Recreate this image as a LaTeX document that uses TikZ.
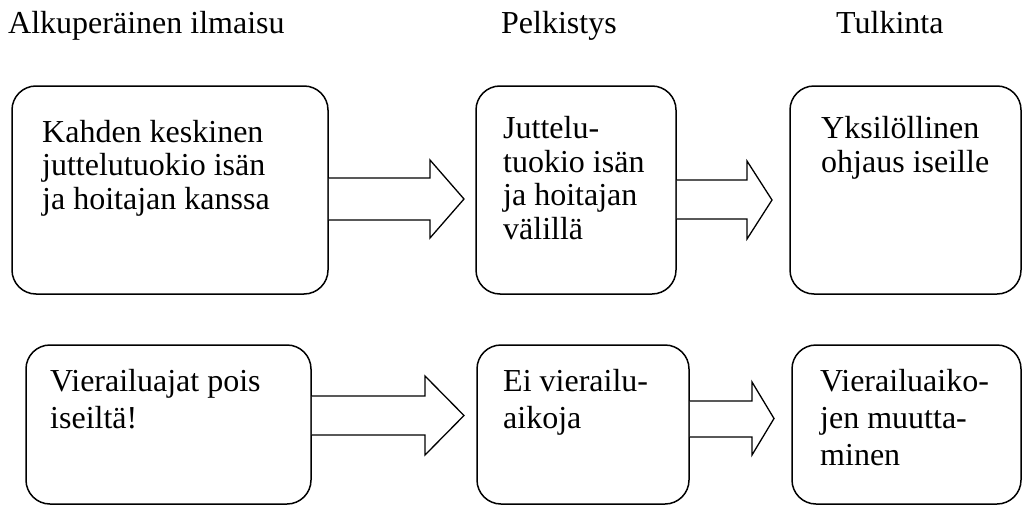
\documentclass[tikz,border=0pt]{standalone}
\usepackage{fontspec}
\setmainfont{Liberation Serif}
\usepackage{tikz}

\tikzset{
  laatikko/.style={draw, line width=1.5pt, rounded corners=24pt, inner sep=0pt},
  teksti/.style={anchor=base west, align=left, inner sep=0pt, font=\fontsize{32}{33.5}\selectfont},
  harva/.style={font=\fontsize{32}{37}\selectfont},
  nuoli/.style={draw, line width=1.3pt, line join=miter, fill=white}
}

\begin{document}
\begin{tikzpicture}[x=1pt,y=-1pt]
		\useasboundingbox (0,0) rectangle (1023,506);
		\node[teksti] (o1) at (8,33) {Alkuperäinen ilmaisu};
		\node[teksti] (o2) at (501,33) {Pelkistys};
		\node[teksti] (o3) at (836,33) {Tulkinta};
		\node[laatikko, minimum width=316pt, minimum height=208pt] (a1) at (170,190) {};
		\node[laatikko, minimum width=200pt, minimum height=208pt] (b1) at (576,190) {};
		\node[laatikko, minimum width=231pt, minimum height=208pt] (c1) at (905.5,190) {};
		\node[laatikko, minimum width=285pt, minimum height=159pt] (a2) at (168.5,424.5) {};
		\node[laatikko, minimum width=212pt, minimum height=159pt] (b2) at (583,424.5) {};
		\node[laatikko, minimum width=229pt, minimum height=159pt] (c2) at (906.5,424.5) {};
		% base = viimeisen rivin perusviiva
		\node[teksti] (ta1) at (42,209) {Kahden keskinen\\juttelutuokio isän\\ja hoitajan kanssa};
		\node[teksti] (tb1) at (503,239) {Juttelu-\\tuokio isän\\ja hoitajan\\välillä};
		\node[teksti] (tc1) at (821,172) {Yksilöllinen\\ohjaus iseille};
		\node[teksti,harva] (ta2) at (50,428) {Vierailuajat pois\\iseiltä!};
		\node[teksti,harva] (tb2) at (503,428) {Ei vierailu-\\aikoja};
		\node[teksti,harva] (tc2) at (820,465) {Vierailuaiko-\\jen muutta-\\minen};
		\draw[nuoli] (a1.east |- 0,178) -- (430,178) -- (430,160) -- (464,199) -- (430,238) -- (430,220) -- (a1.east |- 0,220);
		\draw[nuoli] (b1.east |- 0,180) -- (747,180) -- (747,161) -- (772,200) -- (747,239) -- (747,219) -- (b1.east |- 0,219);
		\draw[nuoli] (a2.east |- 0,396) -- (425,396) -- (425,376) -- (464,415.5) -- (425,455) -- (425,435) -- (a2.east |- 0,435);
		\draw[nuoli] (b2.east |- 0,401) -- (752,401) -- (752,382) -- (774,418.5) -- (752,455) -- (752,437) -- (b2.east |- 0,437);
	\end{tikzpicture}
\end{document}
